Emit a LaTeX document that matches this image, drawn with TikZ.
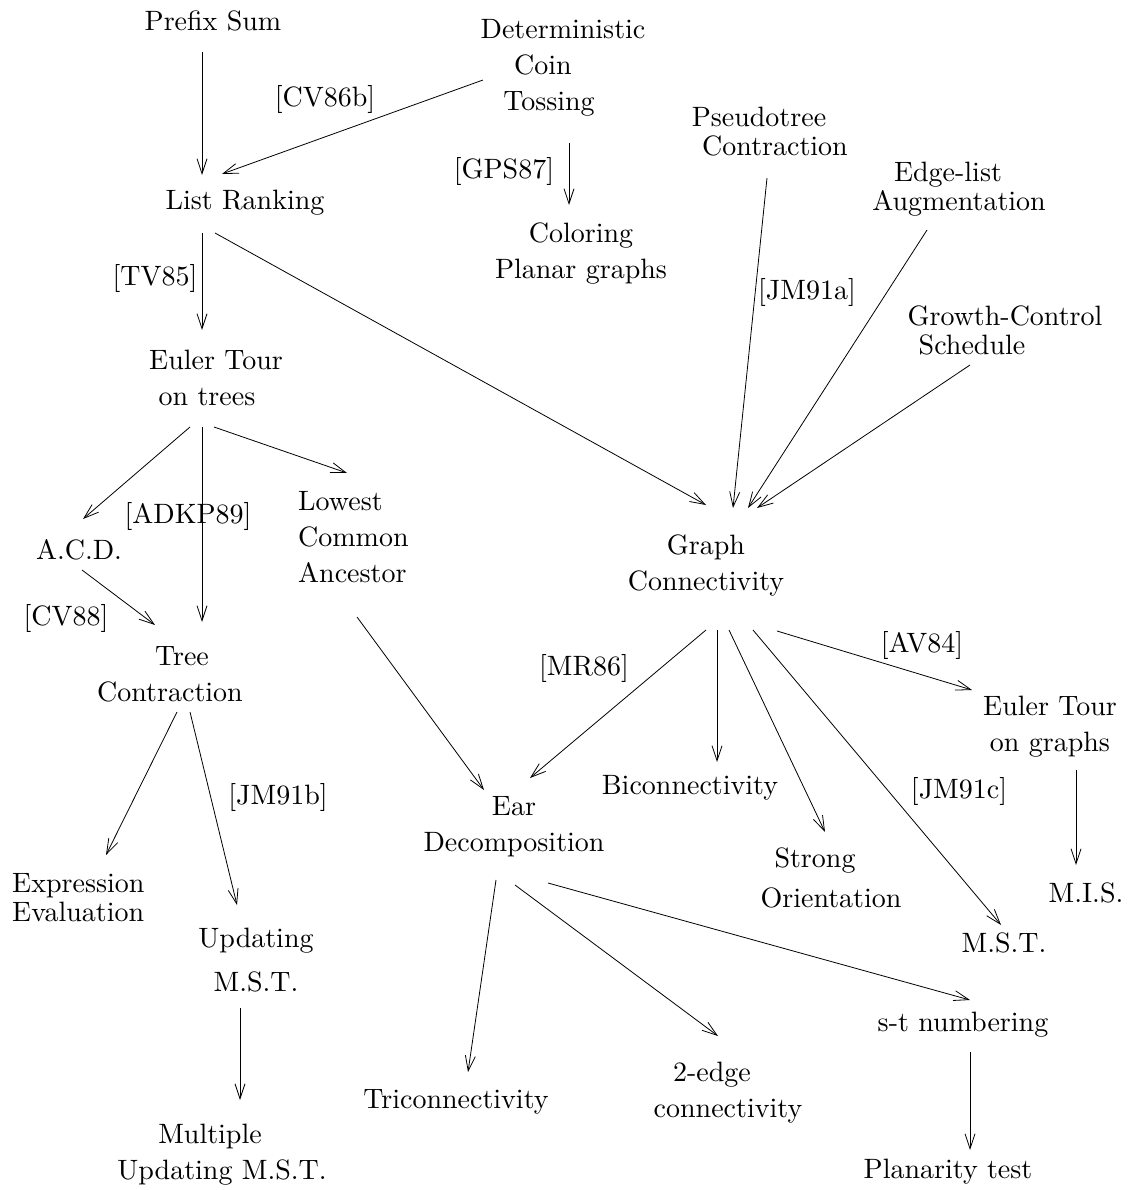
\documentclass[tikz,border=0pt]{standalone}
\usepackage{fontspec}
\setmainfont{lmroman10-regular.otf}
\usetikzlibrary{arrows.meta}
\tikzset{
  lbl/.style={inner sep=0pt, align=center, font=\fontsize{28}{36}\selectfont},
  tight/.style={font=\fontsize{28}{29}\selectfont},
  ref/.style={inner sep=0pt, font=\fontsize{28}{36}\selectfont},
  arr/.style={-{Straight Barb[length=15pt,width=10pt]}, line width=0.8pt}
}
\newcommand{\cn}[4]{\draw[arr] ([shift={(#2)}]#1) -- ([shift={(#4)}]#3);}
\newcommand{\ls}[1]{\hspace*{#1pt}}
\begin{document}
\begin{tikzpicture}[x=1pt,y=-1pt]
\useasboundingbox (0,0) rectangle (1130,1190);
% nodes
\node[lbl] (ps) at (213,21) {Prefix Sum};
\node[lbl] (dct) at (553,68) {\ls{20}Deterministic\\\ls{-20}Coin\\\ls{-8}Tossing};
\node[lbl] (lr) at (245,203) {List Ranking};
\node[lbl] (cpg) at (581,254) {Coloring\\Planar graphs};
\node[lbl,tight] (pc) at (767,132) {\ls{-16}Pseudotree\\\ls{16}Contraction};
\node[lbl,tight] (ela) at (953,189) {\ls{-10}Edge-list\\\ls{12}Augmentation};
\node[lbl,tight] (gcs) at (988,330) {\ls{34}Growth-Control\\\ls{-32}Schedule};
\node[lbl] (et) at (211,378) {\ls{10}Euler Tour\\\ls{-8}on trees};
\node[lbl] (acd) at (79,550) {A.C.D.};
\node[lbl,align=left,anchor=west] (lca) at (298,537) {Lowest\\Common\\Ancestor};
\node[lbl] (gc) at (706,565) {Graph\\Connectivity};
\node[lbl] (tc) at (176,674) {\ls{12}Tree\\\ls{-12}Contraction};
\node[lbl] (etg) at (1050,727) {Euler Tour\\on graphs};
\node[lbl] (bic) at (690,788) {Biconnectivity};
\node[lbl] (ed) at (514,827) {Ear\\Decomposition};
\node[lbl,font=\fontsize{28}{40}\selectfont] (so) at (823,878) {\ls{-16}Strong\\\ls{16}Orientation};
\node[lbl] (mst) at (1004,943) {M.S.T.};
\node[lbl] (mis) at (1086,893) {M.I.S.};
\node[lbl,tight,align=left,anchor=west] (ee) at (12,898) {Expression\\Evaluation};
\node[lbl,font=\fontsize{28}{44}\selectfont] (umst) at (256,960) {Updating\\M.S.T.};
\node[lbl] (mumst) at (216,1155) {\ls{-12}Multiple\\\ls{12}Updating M.S.T.};
\node[lbl] (tri) at (456,1102) {Triconnectivity};
\node[lbl] (tec) at (720,1093) {\ls{-16}2-edge\\\ls{16}connectivity};
\node[lbl] (stn) at (963,1025) {s-t numbering};
\node[lbl] (pt) at (948,1172) {Planarity test};
% reference labels
\node[ref] (r1) at (325,100) {[CV86b]};
\node[ref] (r2) at (504,172) {[GPS87]};
\node[ref] (r3) at (155,278) {[TV85]};
\node[ref] (r4) at (807,292) {[JM91a]};
\node[ref] (r5) at (188,516) {[ADKP89]};
\node[ref] (r6) at (66,618) {[CV88]};
\node[ref] (r7) at (584,668) {[MR86]};
\node[ref] (r8) at (922,645) {[AV84]};
\node[ref] (r9) at (278,797) {[JM91b]};
\node[ref] (r10) at (959,791) {[JM91c]};
% connectors
\cn{ps.center}{-11,31}{lr.center}{-43,-28}
\cn{dct.center}{-70,12}{lr.center}{-23,-29}
\cn{dct.center}{16,75}{cpg.center}{-12,-49}
\cn{lr.center}{-43,30}{et.center}{-9,-48}
\cn{lr.center}{-30,30}{gc.center}{0,-60}
\cn{pc.center}{0,46}{gc.center}{27,-57}
\cn{ela.center}{-26,41}{gc.center}{42,-57}
\cn{gcs.center}{-18,35}{gc.center}{51,-57}
\cn{et.center}{-21,49}{acd.center}{4,-31}
\cn{et.center}{-9,49}{tc.center}{26,-52}
\cn{et.center}{3,49}{lca.west}{49,-64}
\cn{acd.center}{3,20}{tc.center}{-21,-49}
\cn{lca.west}{59,80}{ed.center}{-30,-37}
\cn{tc.center}{1,38}{ee.west}{94,-43}
\cn{tc.center}{14,38}{umst.center}{-19,-55}
\cn{umst.center}{-16,48}{mumst.center}{24,-55}
\cn{gc.center}{0,65}{ed.center}{16,-49}
\cn{gc.center}{11,65}{bic.center}{27,-26}
\cn{gc.center}{23,65}{so.center}{2,-46}
\cn{gc.center}{47,65}{mst.center}{-3,-18}
\cn{gc.center}{71,66}{etg.center}{-78,-37}
\cn{etg.center}{26,43}{mis.center}{-10,-28}
\cn{ed.center}{-18,53}{tri.center}{12,-30}
\cn{ed.center}{1,58}{tec.center}{-2,-57}
\cn{ed.center}{34,56}{stn.center}{7,-25}
\cn{stn.center}{7,27}{pt.center}{22,-22}
\end{tikzpicture}
\end{document}
